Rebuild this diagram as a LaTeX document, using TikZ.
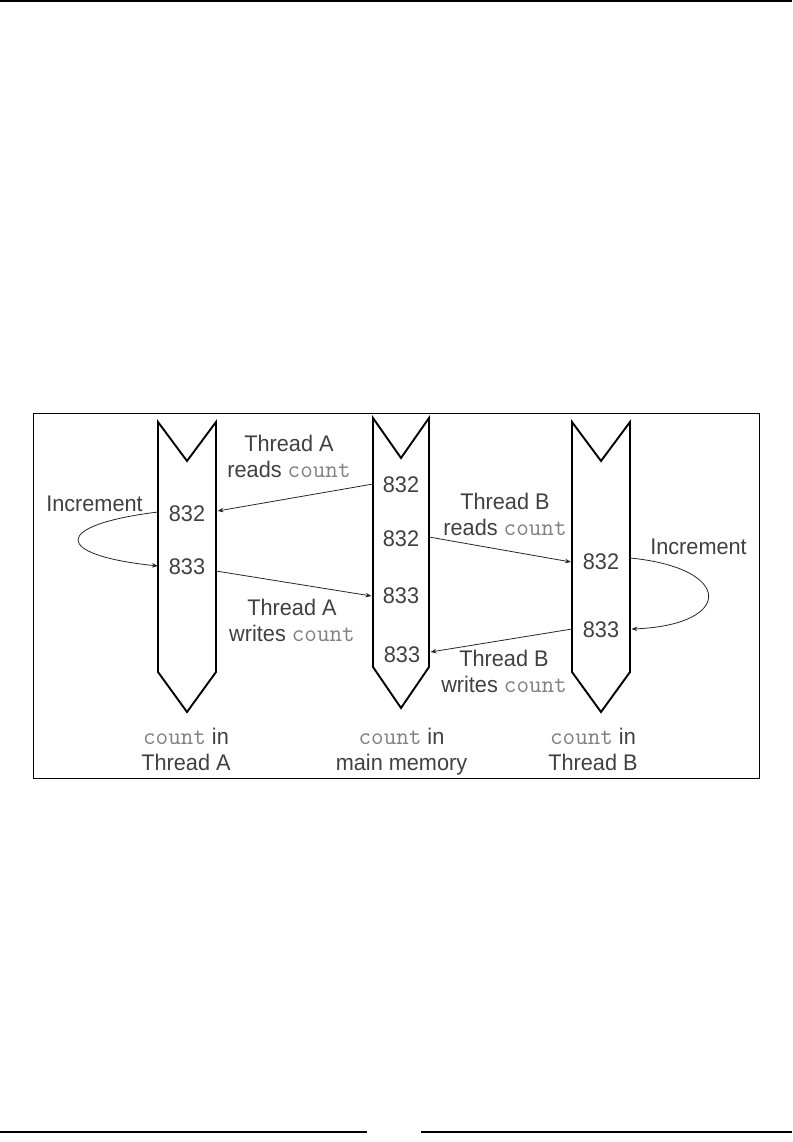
\documentclass[tikz,border=0pt]{standalone}
\usepackage{fontspec}
\setmainfont{Liberation Sans}[FakeStretch=0.96]
\usetikzlibrary{arrows.meta}
\definecolor{txt}{HTML}{404040}
\definecolor{cntcol}{HTML}{808080}
\newcommand{\cntw}{{\ttfamily\fontsize{24.4}{26}\selectfont\color{cntcol}count}}
\begin{document}
\begin{tikzpicture}[x=1pt,y=-1pt,
  lbl/.style={text=txt,font=\fontsize{22.6}{26}\selectfont,inner sep=0pt,align=center},
  num/.style={text=txt,font=\fontsize{22.6}{26}\selectfont,inner sep=0pt},
  col/.style={draw=black,line width=1.9pt,line join=miter},
  conn/.style={draw=black!85,line width=0.8pt,-{Stealth[length=6pt,width=4.5pt]}},
  frame/.style={draw=black,line width=1pt},
  rule/.style={draw=black,line width=1.5pt}]
\useasboundingbox (0,0) rectangle (792,1142);

% page rules and frame
\draw[rule] (0,1) -- (792,1);
\draw[rule] (0,1132) -- (367,1132);
\draw[rule] (421,1132) -- (792,1132);
\draw[frame] (33,413) rectangle (759,778);

% columns
\draw[col] (158,422) -- (158,672) -- (187,712) -- (216,672) -- (216,422) -- (187,461) -- cycle;
\draw[col] (373,418) -- (373,667) -- (401,708) -- (429,667) -- (429,418) -- (401,458) -- cycle;
\draw[col] (572,422) -- (572,672) -- (601,712) -- (630,672) -- (630,422) -- (601,461) -- cycle;

% values
\node[num] (a1) at (187,513.5) {832};
\node[num] (a2) at (187,567) {833};
\node[num] (m1) at (401,485) {832};
\node[num] (m2) at (401,538.5) {832};
\node[num] (m3) at (401,596) {833};
\node[num] (m4) at (402,654.5) {833};
\node[num] (b1) at (601,561.5) {832};
\node[num] (b2) at (601,629.5) {833};

% connector ends on column edges
\coordinate (aL1) at (158,512);
\coordinate (aL2) at (158,566);
\coordinate (aR1) at (217.5,511);
\coordinate (aR2) at (216,571);
\coordinate (mL1) at (373,484);
\coordinate (mR2) at (429,537);
\coordinate (mL3) at (371.5,596);
\coordinate (mR4) at (430.5,652);
\coordinate (bL1) at (571,562);
\coordinate (bR1) at (630,558);
\coordinate (bR2) at (631.5,629);
\coordinate (bL2) at (572,629);

\draw[conn] (mL1) -- (aR1);
\draw[conn] (mR2) -- (bL1);
\draw[conn] (aR2) -- (mL3);
\draw[conn] (bL2) -- (mR4);
\draw[conn] (aL1) .. controls (52,525) and (52,555) .. (aL2);
\draw[conn] (bR1) .. controls (734,568) and (734,625) .. (bR2);

% labels
\node[lbl] (incA) at (94.5,504) {Increment};
\node[lbl] (incB) at (698.5,547) {Increment};
\node[lbl] (ra) at (289,456) {Thread A\\reads \cntw};
\node[lbl] (rb) at (505,514) {Thread B\\reads \cntw};
\node[lbl] (wa) at (292,620) {Thread A\\writes \cntw};
\node[lbl] (wb) at (504,671) {Thread B\\writes \cntw};
\node[lbl] (ca) at (186,749.5) {\cntw{} in\\Thread A};
\node[lbl] (cm) at (401.5,752) {\cntw{} in\\main memory};
\node[lbl] (cb) at (593,749.5) {\cntw{} in\\Thread B};
\end{tikzpicture}
\end{document}
